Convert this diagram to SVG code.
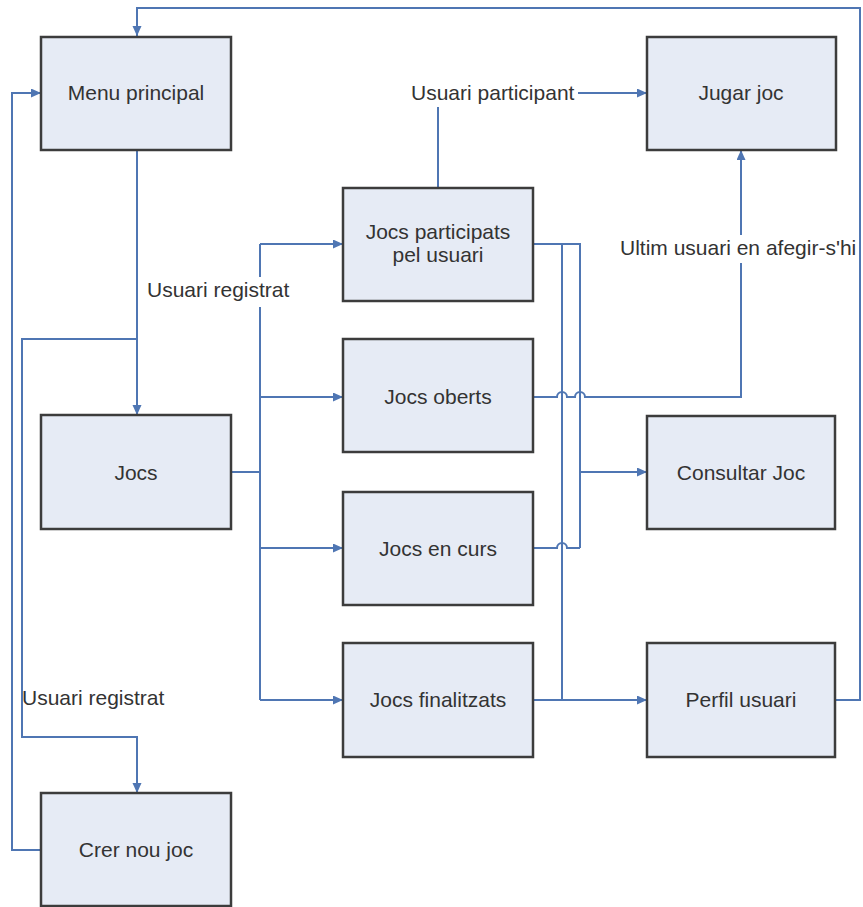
<svg xmlns="http://www.w3.org/2000/svg" width="863" height="907" viewBox="0 0 863 907">
<style>
.box{fill:#e6ebf5;stroke:#3c3c3c;stroke-width:2.5}
.t{font-family:"Liberation Sans",Arial,sans-serif;font-size:21px;fill:#333;text-anchor:middle}
.lbl{font-family:"Liberation Sans",Arial,sans-serif;font-size:21px;fill:#333}
.c{fill:none;stroke:#4f76b3;stroke-width:2}
.a{marker-end:url(#arr)}
</style>
<defs>
<marker id="arr" markerUnits="userSpaceOnUse" markerWidth="11" markerHeight="10" refX="10" refY="4.5" orient="auto">
<path d="M0,0 L10,4.5 L0,9 z" fill="#4f76b3"/>
</marker>
</defs>
<rect width="863" height="907" fill="#fff"/>
<g id="connectors">
<path class="c a" d="M835,700 H860 V8 H137 V36"/>
<path class="c a" d="M41,850 H12 V93 H41"/>
<path class="c a" d="M137,150 V415"/>
<path class="c a" d="M137,339 H22 V737 H137 V793"/>
<path class="c" d="M231,472 H260"/>
<path class="c" d="M260,244 V700"/>
<path class="c a" d="M260,244 H343"/>
<path class="c a" d="M260,397 H343"/>
<path class="c a" d="M260,548 H343"/>
<path class="c a" d="M260,700 H343"/>
<path class="c" d="M438,188 V107"/>
<path class="c a" d="M578,93 H647"/>
<path class="c a" d="M533,397 H557 a5,5 0 0 1 10,0 H575 a5,5 0 0 1 10,0 H741 V150"/>
<path class="c" d="M533,244 H580 V548"/>
<path class="c a" d="M580,472 H647"/>
<path class="c" d="M562,244 V700"/>
<path class="c a" d="M533,700 H647"/>
<path class="c" d="M533,548 H557 a5,5 0 0 1 10,0 H580"/>
</g>
<g id="labels">
<rect x="144" y="277" width="150" height="30" fill="#fff"/>
<text class="lbl" x="147" y="297">Usuari registrat</text>
<text class="lbl" x="22" y="705">Usuari registrat</text>
<text class="lbl" x="411" y="100">Usuari participant</text>
<rect x="730" y="235" width="22" height="28" fill="#fff"/>
<text class="lbl" x="620" y="255">Ultim usuari en afegir-s'hi</text>
</g>
<g id="menu-principal"><rect class="box" x="41" y="37" width="190" height="113"/><text class="t" x="136" y="100">Menu principal</text></g>
<g id="jugar-joc"><rect class="box" x="647" y="37" width="189" height="113"/><text class="t" x="741" y="100">Jugar joc</text></g>
<g id="jocs-participats"><rect class="box" x="343" y="188" width="190" height="113"/><text class="t" x="438" y="239">Jocs participats</text><text class="t" x="438" y="262">pel usuari</text></g>
<g id="jocs"><rect class="box" x="41" y="415" width="190" height="114"/><text class="t" x="136" y="480">Jocs</text></g>
<g id="jocs-oberts"><rect class="box" x="343" y="339" width="190" height="113"/><text class="t" x="438" y="404">Jocs oberts</text></g>
<g id="consultar-joc"><rect class="box" x="647" y="416" width="188" height="113"/><text class="t" x="741" y="480">Consultar Joc</text></g>
<g id="jocs-en-curs"><rect class="box" x="343" y="492" width="190" height="113"/><text class="t" x="438" y="556">Jocs en curs</text></g>
<g id="jocs-finalitzats"><rect class="box" x="343" y="643" width="190" height="114"/><text class="t" x="438" y="707">Jocs finalitzats</text></g>
<g id="perfil-usuari"><rect class="box" x="647" y="643" width="188" height="114"/><text class="t" x="741" y="707">Perfil usuari</text></g>
<g id="crer-nou-joc"><rect class="box" x="41" y="793" width="190" height="113"/><text class="t" x="136" y="857">Crer nou joc</text></g>
</svg>
